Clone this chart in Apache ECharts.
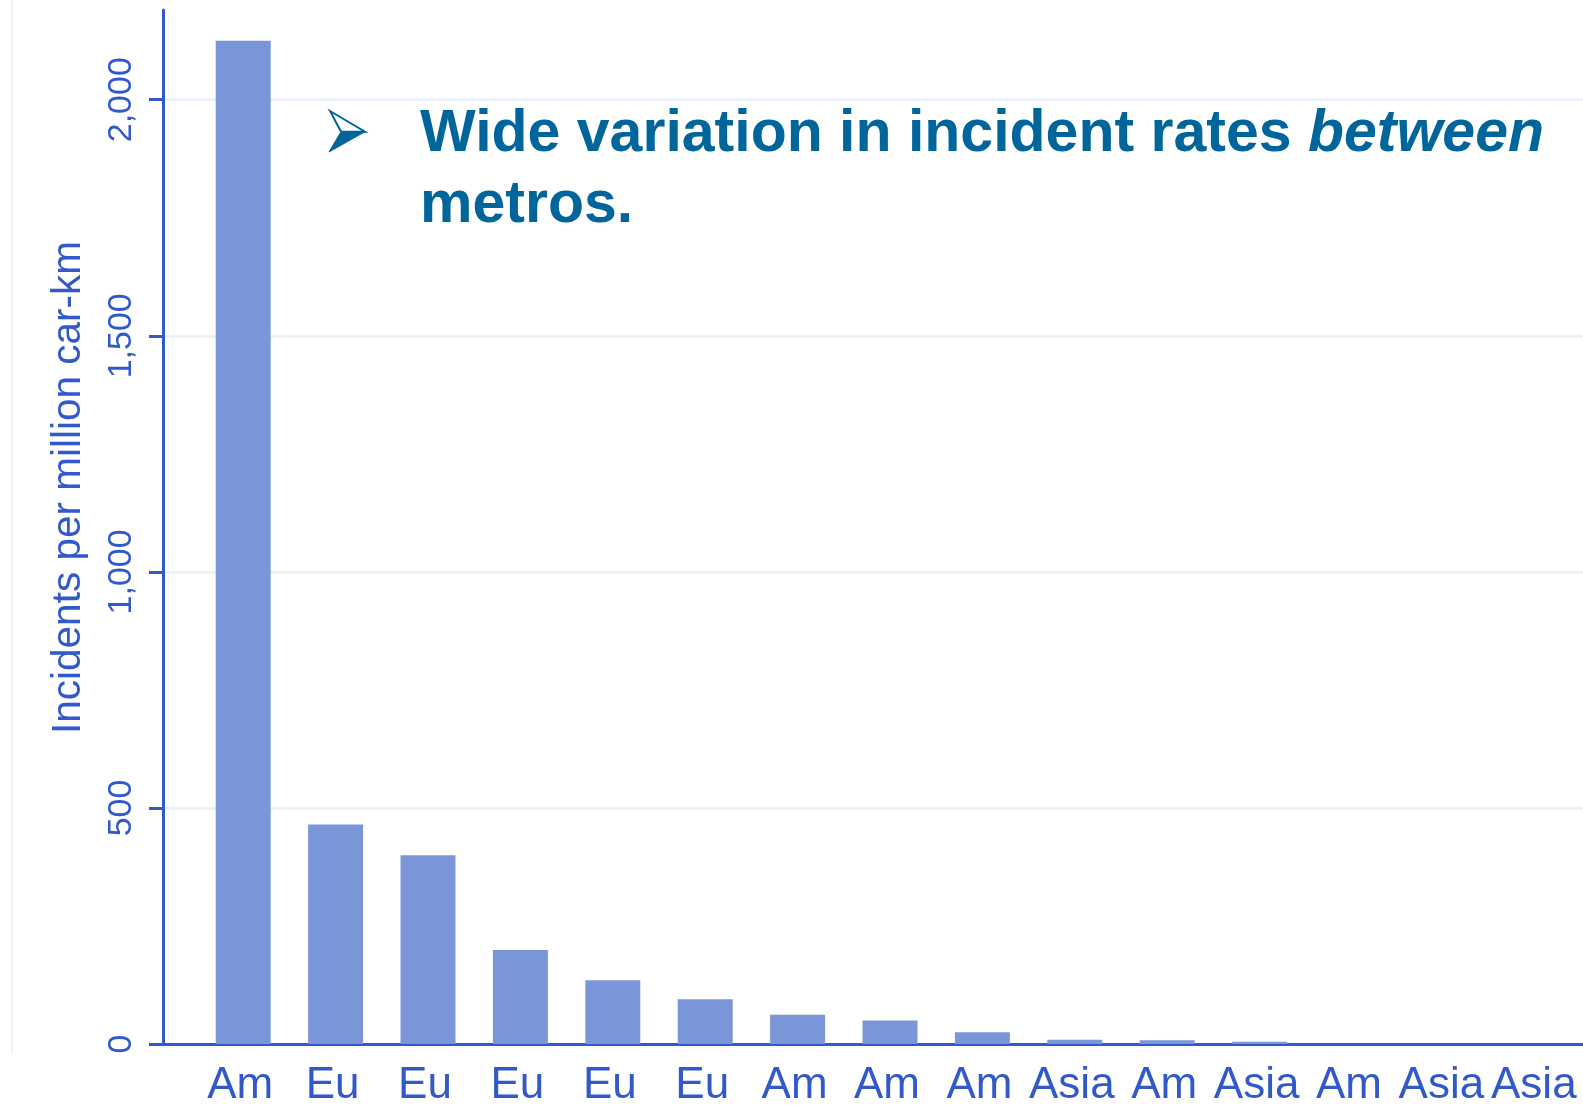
<!DOCTYPE html>
<html>
<head>
<meta charset="utf-8">
<script src="https://cdn.jsdelivr.net/npm/echarts@6/dist/echarts.min.js"></script>
<style>html,body{margin:0;padding:0;background:#fff}#c{width:1583px;height:1105px}</style>
</head>
<body>
<div id="c"></div>
<script>
const categories = ['Am','Eu','Eu','Eu','Eu','Eu','Am','Am','Am','Asia','Am','Asia','Am','Asia','Asia'];
const incidents = [2125, 465, 400, 199, 135, 95, 62, 50, 25, 9, 8, 5, 0, 0, 0];
const yTicks = [0, 500, 1000, 1500, 2000];
const yAxisName = 'Incidents per million car-km';
const headlineMain = 'Wide variation in incident rates ';
const headlineItalic = 'between';
const headlineEnd = 'metros.';

const blue = '#3159c9';
const dark = '#00659b';
const font = 'Liberation Sans, Arial, Helvetica, sans-serif';
const chart = echarts.init(document.getElementById('c'), null, {renderer: 'canvas'});
chart.setOption({
  animation: false,
  backgroundColor: '#ffffff',
  title: [
    {
      text: '{b|' + headlineMain + '}{bi|' + headlineItalic + '}\n{b|' + headlineEnd + '}',
      left: 415, top: 94,
      textStyle: {
        rich: {
          b: {fontFamily: font, fontSize: 59, fontWeight: 'bold', color: dark, lineHeight: 71},
          bi: {fontFamily: font, fontSize: 59, fontWeight: 'bold', fontStyle: 'italic', color: dark, lineHeight: 71}
        }
      }
    }
  ],
  graphic: [
    {
      type: 'line', shape: {x1: 12, y1: 0, x2: 12, y2: 1053},
      style: {stroke: '#eef0f8', lineWidth: 2}, silent: true
    },
    {
      type: 'polygon', silent: true,
      shape: {points: [[330, 111], [365, 131.7], [341, 131.7]]},
      style: {fill: '#ffffff', stroke: dark, lineWidth: 2, lineJoin: 'miter'}
    },
    {
      type: 'polygon', silent: true,
      shape: {points: [[341, 131.7], [365, 131.7], [329, 152]]},
      style: {fill: dark, stroke: dark, lineWidth: 1}
    }
  ],
  grid: [
    {left: 163, right: 0, top: 10, bottom: 61, containLabel: false, outerBoundsMode: 'none'},
    {left: 197, right: 0, top: 10, bottom: 61, containLabel: false, outerBoundsMode: 'none'}
  ],
  xAxis: [
    {
      gridIndex: 0, type: 'value', min: 0, max: 1,
      axisLine: {show: true, lineStyle: {color: blue, width: 3}},
      axisTick: {show: false}, axisLabel: {show: false}, splitLine: {show: false}
    },
    {
      gridIndex: 1, type: 'category', data: categories,
      axisLine: {show: false}, axisTick: {show: false},
      axisLabel: {color: blue, fontSize: 44, fontFamily: font, margin: 20, interval: 0,
        hideOverlap: false, padding: [0, 6, 0, 0]}
    }
  ],
  yAxis: [
    {
      gridIndex: 0, type: 'value', min: yTicks[0], max: 2190, interval: yTicks[1] - yTicks[0],
      name: yAxisName, nameLocation: 'middle', nameGap: 74, nameRotate: 90,
      nameTextStyle: {color: blue, fontSize: 40.5, fontFamily: font, padding: [0, 0, 0, 79]},
      axisLine: {show: true, lineStyle: {color: blue, width: 3}},
      axisTick: {show: true, length: 14, lineStyle: {color: blue, width: 3}},
      axisLabel: {
        color: blue, fontSize: 34, fontFamily: font, rotate: 90, margin: 24,
        showMaxLabel: false,
        formatter: v => v.toLocaleString('en-US')
      },
      splitLine: {show: true, showMaxLine: false, lineStyle: {color: '#edf1fa', width: 3}}
    },
    {
      gridIndex: 1, type: 'value', min: 0, max: 2190,
      show: false, splitLine: {show: false}
    }
  ],
  series: [{
    type: 'bar', xAxisIndex: 1, yAxisIndex: 1,
    data: incidents, barWidth: 55,
    itemStyle: {color: '#7a96d8'}
  }]
});
</script>
</body>
</html>
